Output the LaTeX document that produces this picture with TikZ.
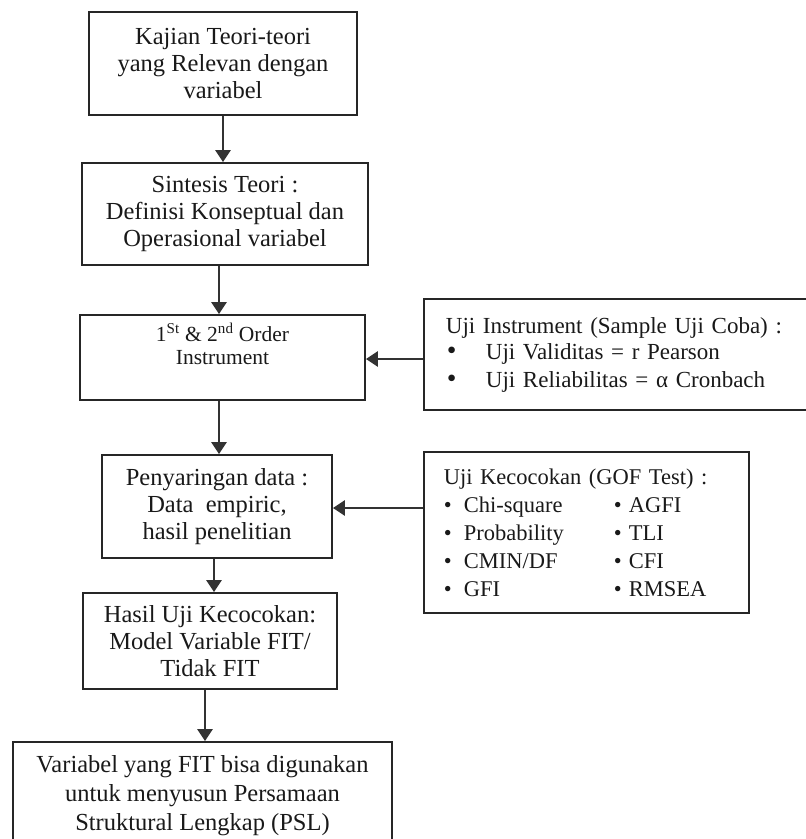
\documentclass[tikz,border=0pt]{standalone}
\usepackage{fontspec}
\setmainfont{Liberation Serif}
\usetikzlibrary{arrows.meta,calc}
\newcommand\gofitem[2]{\makebox[#1][l]{\textbullet}#2}
\newcommand\bigbul{\scalebox{1.2}{\textbullet}}
\newcommand\ujiitem[1]{\hspace*{1pt}\makebox[39pt][l]{\bigbul}#1}
\begin{document}
\begin{tikzpicture}[x=1pt,y=-1pt,
  box/.style={draw=black!85, line width=1.8pt, rectangle, inner sep=0pt, align=center,
              text=black!90, font=\fontsize{24.5}{27}\selectfont},
  sidebox/.style={box, align=left, inner xsep=22pt, inner ysep=0pt},
  arr/.style={line width=2.6pt, draw=black!80, -{Triangle[width=15pt,length=12pt]}}]
\useasboundingbox (0,0) rectangle (806,839);

\node[box, minimum width=268, minimum height=103] (b1) at (223,63.5)
  {Kajian Teori-teori\\yang Relevan dengan\\variabel};
\node[box, minimum width=286, minimum height=102] (b2) at (225,214)
  {Sintesis Teori :\\Definisi Konseptual dan\\Operasional variabel};
\node[box, minimum width=285, minimum height=85, font=\fontsize{21.5}{23}\selectfont] (b3) at (222.5,357.5)
  {1\textsuperscript{St} \& 2\textsuperscript{nd} Order\\Instrument\\[4pt]};
\node[box, minimum width=230, minimum height=103] (b4) at (217,506.5)
  {Penyaringan data :\\Data\ \ empiric,\\hasil penelitian};
\node[box, minimum width=254, minimum height=96] (b5) at (210,641)
  {Hasil Uji Kecocokan:\\Model Variable FIT/\\Tidak FIT};
\node[box, minimum width=379, minimum height=108, font=\fontsize{24.5}{29}\selectfont] (b6) at (202.5,796)
  {Variabel yang FIT bisa digunakan\\untuk menyusun Persamaan\\Struktural Lengkap (PSL)};

\node[sidebox, anchor=west, text width=380, minimum height=111,
      font=\fontsize{23}{25}\selectfont] (uji) at (423,354.5)
  {\mbox{Uji Instrument (Sample Uji Coba) :}\\[1pt]
   \ujiitem{Uji Validitas = r Pearson}\\[3pt]
   \ujiitem{Uji Reliabilitas = α Cronbach}};

\node[sidebox, anchor=west, inner xsep=20pt, text width=285, minimum height=161,
      font=\fontsize{22.5}{28}\selectfont] (gof) at (423,532.5)
  {\mbox{Uji Kecocokan (GOF Test) :}\\
   \makebox[170pt][l]{\gofitem{20pt}{Chi-square}}\gofitem{15pt}{AGFI}\\
   \makebox[170pt][l]{\gofitem{20pt}{Probability}}\gofitem{15pt}{TLI}\\
   \makebox[170pt][l]{\gofitem{20pt}{CMIN/DF}}\gofitem{15pt}{CFI}\\
   \makebox[170pt][l]{\gofitem{20pt}{GFI}}\gofitem{15pt}{RMSEA}};

\coordinate (x2) at (219,0);
\coordinate (x4) at (214,0);
\coordinate (x5) at (205,0);
\coordinate (y6) at (0,359);
\coordinate (y7) at (0,508);

\draw[arr] (b1.south) -- (b1.south |- b2.north);
\draw[arr] (b2.south -| x2) -- (b3.north -| x2);
\draw[arr] (b3.south -| x2) -- (b4.north -| x2);
\draw[arr] (b4.south -| x4) -- (b5.north -| x4);
\draw[arr] (b5.south -| x5) -- (b6.north -| x5);
\draw[arr] (uji.west |- y6) -- (b3.east |- y6);
\draw[arr] (gof.west |- y7) -- (b4.east |- y7);
\end{tikzpicture}
\end{document}
